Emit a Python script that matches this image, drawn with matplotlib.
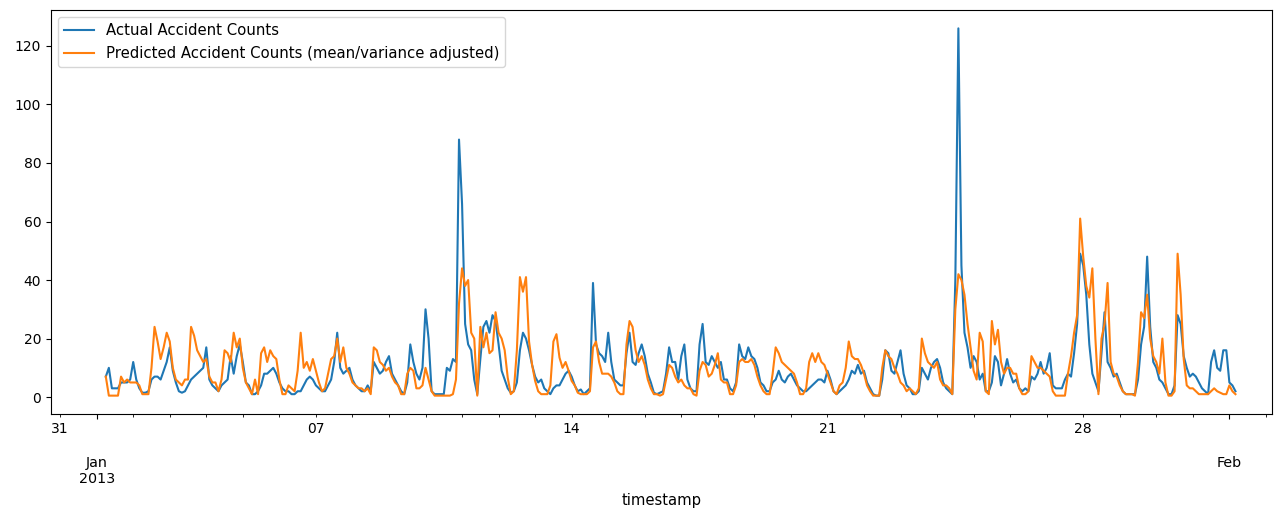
import numpy as np
import pandas as pd
import matplotlib
matplotlib.use('Agg')
import matplotlib.pyplot as plt
import matplotlib.dates as mdates
from matplotlib.ticker import FixedLocator, FixedFormatter

# 2-hourly readings starting Jan 1 06:00, one row per day (06:00 -> 04:00 next day)
actual = [
    7, 10, 3, 3, 3, 5, 5, 5, 6, 12, 6, 3,
    1.5, 1.5, 2, 6, 7, 7, 6, 9, 12, 17, 9, 5,
    2, 1.5, 2, 4, 6, 7, 8, 9, 10, 17, 6, 4,
    3, 2, 4, 5, 6, 14, 8, 14, 18, 12, 5, 4,
    1, 1, 2, 4, 8, 8, 9, 10, 8, 5, 3, 2,
    2, 1, 1, 2, 2, 4, 6, 7, 6, 4, 3, 2,
    2, 4, 6, 12, 22, 10, 8, 9, 10, 6, 4, 3,
    2, 2, 4, 2, 12, 10, 8, 9, 12, 14, 8, 6,
    4, 2, 1, 5, 18, 12, 8, 6, 10, 30, 20, 2,
    1, 1, 1, 1, 10, 9, 13, 12, 88, 66, 25, 18,
    16, 6, 1, 13, 24, 26, 22, 28, 26, 18, 9, 6,
    3, 1.5, 2, 5, 16, 22, 20, 16, 11, 7, 5, 6,
    3, 2, 1, 3, 4, 4, 6, 8, 9, 7, 4, 2,
    2.6, 1, 2, 3, 39, 18, 15, 14, 12, 22, 12, 6,
    5, 4, 4, 15, 22, 12, 11, 15, 18, 14, 8, 5,
    1.5, 1, 1.5, 2, 8, 17, 12, 12, 6, 14, 18, 6,
    3, 2, 2, 18, 25, 12, 11, 14, 12, 10, 12, 6,
    6, 3, 2, 5, 18, 14, 13, 17, 14, 13, 10, 5,
    4, 2, 2, 5, 6, 9, 6, 5, 7, 8, 6, 4,
    3, 2, 2, 3, 4, 5, 6, 6, 5, 9, 6, 2,
    1, 2, 3, 4, 6, 9, 8, 11, 8, 9, 5, 3,
    1, 0.5, 0.5, 6, 16, 15, 9, 8, 12, 16, 8, 4,
    3, 1, 1, 2, 10, 8, 6, 10, 12, 13, 10, 5,
    3, 2, 1, 40, 126, 45, 22, 17, 10, 14, 12, 6,
    8, 2, 2, 5, 14, 12, 4, 8, 13, 8, 5, 6,
    3, 2, 3, 2, 7, 6, 8, 12, 8, 10, 15, 4,
    3, 3, 3, 6, 8, 7, 15, 25, 49, 45, 35, 18,
    8, 5, 2, 15, 29, 12, 10, 7, 8, 5, 2, 1,
    1, 1, 1, 6, 18, 24, 48, 24, 12, 10, 6, 5,
    3, 1, 1, 4, 28, 25, 14, 10, 7, 8, 7, 5,
    3, 2, 1, 12, 16, 10, 9, 16, 16, 5, 4, 2,
]

predicted = [
    7, 0.5, 0.5, 0.5, 0.5, 7, 5, 6, 5, 5, 5, 4,
    1, 1, 1, 10, 24, 19, 13, 17, 22, 19, 10, 6,
    5, 4, 6, 6, 24, 21, 16, 14, 12, 13, 7, 5,
    5, 2, 6, 16, 15, 12, 22, 17, 20, 10, 5, 3,
    1, 6, 1, 15, 17, 12, 16, 14, 13, 6, 1, 1,
    4, 3, 2, 9, 22, 10, 12, 9, 13, 9, 5, 2,
    3, 8, 13, 14, 20, 12, 17, 10, 8, 5, 4, 3,
    3, 2, 3, 1, 17, 16, 12, 11, 9, 10, 7, 5,
    4, 1, 1, 8, 10, 9, 3, 3, 4, 10, 6, 2,
    0.5, 0.5, 0.5, 0.5, 0.5, 0.5, 1, 6, 32, 44, 38, 40,
    22, 20, 0.5, 24, 17, 22, 15, 16, 29, 22, 20, 16,
    6.6, 1, 2, 16, 41, 36, 41, 19, 11, 5.5, 2, 1,
    1, 1, 4, 19, 21.5, 13.5, 10, 12, 9, 5.5, 4, 1.5,
    1, 1, 1, 2, 17, 19, 12, 8, 8, 8, 7, 5,
    2, 1, 1, 18, 26, 24, 16, 12, 14, 11, 6, 3,
    1, 1, 0.5, 1, 6, 11, 10, 7, 5, 6, 4, 3,
    3, 1, 0.5, 9, 12, 11, 7, 8, 11, 15, 6, 5,
    5, 1, 1, 4, 12, 13, 12, 12, 13, 11, 7, 4,
    2, 1, 1, 8, 17, 15, 12, 11, 10, 9, 8, 5,
    1, 1, 3, 12, 15, 12, 15, 12, 11, 8, 5, 2,
    1, 4, 5, 10, 19, 14, 13, 13, 11, 8, 4, 2,
    0.5, 0.5, 0.5, 10, 16, 14, 13, 10, 8, 5, 4, 2,
    3, 2, 1, 3, 20, 15, 12, 11, 10, 12, 6, 4,
    4, 3, 1, 30, 42, 40, 35, 25, 17, 9, 6, 22,
    19, 2, 1, 26, 18, 23, 12, 8, 10, 10, 8, 8,
    3, 1, 1, 2, 14, 12, 10, 10, 9, 8, 7, 2,
    0.5, 0.5, 0.5, 0.5, 8, 14, 22, 28, 61, 48, 38, 34,
    44, 20, 1, 20, 25, 39, 12, 8, 7, 4, 2, 1,
    1, 1, 0.5, 12, 29, 27, 35, 20, 14, 12, 8, 20,
    5, 0.5, 0.5, 2, 49, 35, 13, 4, 3, 3, 2, 1,
    1, 1, 1, 2, 3, 2, 1.5, 1, 1, 4, 2, 1,
]

timestamps = pd.date_range('2013-01-01 06:00', periods=len(actual), freq='2h')

fig = plt.figure(figsize=(12.76, 5.11), dpi=100)
ax = fig.add_axes([51 / 1276, 97 / 511, 1221 / 1276, 404 / 511])

ax.plot(timestamps, actual, label='Actual Accident Counts')
ax.plot(timestamps, predicted, label='Predicted Accident Counts (mean/variance adjusted)')

ax.set_xlim(pd.Timestamp('2012-12-30 18:00'), pd.Timestamp('2013-02-02 04:00'))
ax.set_yticks(np.arange(0, 121, 20))

# pandas-style date axis: month starts as major ticks, days as minor ticks
month_starts = [pd.Timestamp('2013-01-01'), pd.Timestamp('2013-02-01')]
ax.xaxis.set_major_locator(FixedLocator(mdates.date2num(month_starts)))
ax.xaxis.set_major_formatter(FixedFormatter(['\n\nJan\n2013', '\n\nFeb']))

days = [d for d in pd.date_range('2012-12-31', '2013-02-02', freq='D') if d.day != 1]
ax.xaxis.set_minor_locator(FixedLocator(mdates.date2num(days)))
ax.xaxis.set_minor_formatter(FixedFormatter([d.strftime('%d') if d.weekday() == 0 else '' for d in days]))
ax.tick_params(axis='x', which='major', labelsize=10.3)

ax.set_xlabel('timestamp', fontsize=10.6, labelpad=5)
ax.legend(loc='upper left', fontsize=10.7)

plt.savefig('out.png')
